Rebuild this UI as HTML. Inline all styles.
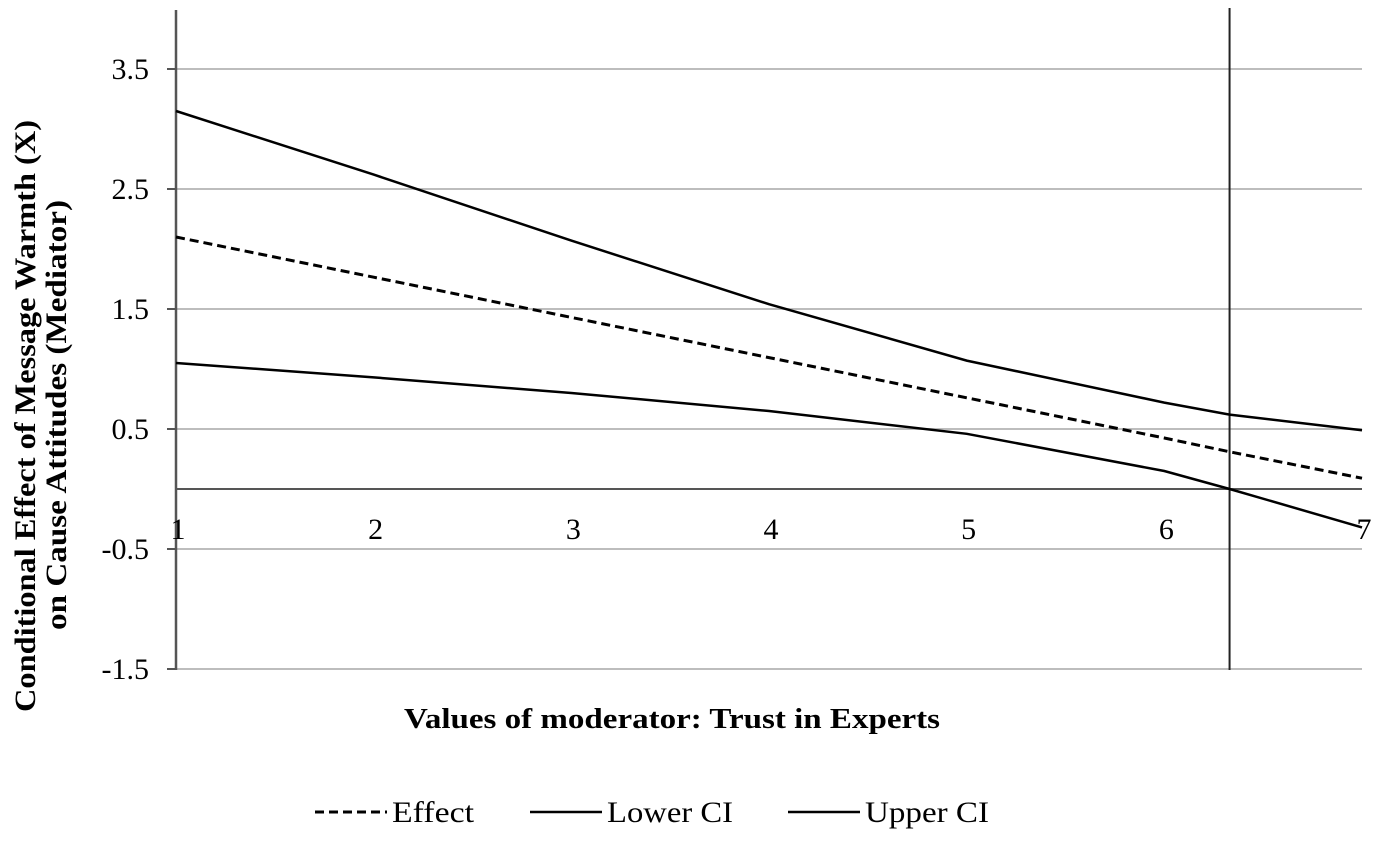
<!DOCTYPE html>
<html><head><meta charset="utf-8"><style>
html,body{margin:0;padding:0;background:#fff;}
svg{display:block;font-family:"Liberation Serif",serif;}
</style></head><body>
<svg id="chart" width="1374" height="841" viewBox="0 0 1374 841">
<g id="grid"></g><g id="axes"></g><g id="series"></g>
<text x="0" y="0" transform="translate(35,416) rotate(-90)" text-anchor="middle" font-size="30" font-weight="bold" textLength="592" lengthAdjust="spacingAndGlyphs">Conditional  Effect of Message Warmth (X)</text>
<text x="0" y="0" transform="translate(66,415) rotate(-90)" text-anchor="middle" font-size="30" font-weight="bold" textLength="430" lengthAdjust="spacingAndGlyphs">on Cause Attitudes (Mediator)</text>
<text x="404" y="728" font-size="29" font-weight="bold" textLength="536" lengthAdjust="spacingAndGlyphs">Values of moderator: Trust in Experts</text>
<g>
<g><line x1="315" y1="812" x2="387" y2="812" stroke="#000" stroke-width="3" stroke-dasharray="9,5"/><text x="392" y="822" font-size="30" textLength="82" lengthAdjust="spacingAndGlyphs">Effect</text></g>
<g><line x1="530" y1="812" x2="602" y2="812" stroke="#000" stroke-width="2.5"/><text x="607" y="822" font-size="30" textLength="126" lengthAdjust="spacingAndGlyphs">Lower CI</text></g>
<g><line x1="788" y1="812" x2="860" y2="812" stroke="#000" stroke-width="2.5"/><text x="865" y="822" font-size="30" textLength="124" lengthAdjust="spacingAndGlyphs">Upper CI</text></g>
</g>
</svg>
<script>
const xCats=[1,2,3,4,5,6,6.33,7];
const effect=[2.10,1.765,1.43,1.095,0.76,0.425,0.31,0.09];
const lowerCI=[1.05,0.93,0.80,0.65,0.46,0.15,0.0,-0.32];
const upperCI=[3.15,2.62,2.07,1.54,1.07,0.72,0.62,0.49];
const yTicks=[3.5,2.5,1.5,0.5,-0.5,-1.5];
const xTicks=[1,2,3,4,5,6,7];
const refX=6.33;
const NS="http://www.w3.org/2000/svg";
const X=v=>176+(v-1)*(1362-176)/6;
const Y=v=>489-v*120;
function mk(p,tag,a){const e=document.createElementNS(NS,tag);for(const k in a)e.setAttribute(k,a[k]);p.appendChild(e);return e;}
const grid=document.getElementById('grid'),axes=document.getElementById('axes'),ser=document.getElementById('series');
yTicks.forEach(t=>{
 const g=mk(grid,'line',{x1:176,x2:1362,y1:Y(t),y2:Y(t),stroke:'#bdbdbd','stroke-width':2});
 
 
 mk(axes,'line',{x1:167,x2:176,y1:Y(t),y2:Y(t),stroke:'#555','stroke-width':2});
 const tx=mk(axes,'text',{x:149,y:Y(t)+10,'text-anchor':'end','font-size':30});
 tx.textContent=t.toFixed(1);
 
 
});
const ya=mk(axes,'line',{x1:176,x2:176,y1:10,y2:670,stroke:'#555','stroke-width':2.5});


const xa=mk(axes,'line',{x1:176,x2:1362,y1:Y(0),y2:Y(0),stroke:'#555','stroke-width':2});


xTicks.forEach(t=>{
 const tx=mk(axes,'text',{x:X(t)+2,y:539,'text-anchor':'middle','font-size':30});
 tx.textContent=t;
 
 
});
const rl=mk(axes,'line',{x1:X(refX),x2:X(refX),y1:8,y2:670,stroke:'#222','stroke-width':2});


function path(vals,name,dash){
 const d=vals.map((v,i)=>(i?'L':'M')+X(xCats[i]).toFixed(1)+','+Y(v).toFixed(1)).join(' ');
 const p=mk(ser,'path',{d:d,fill:'none',stroke:'#000','stroke-width':dash?3:2.5});
 if(dash)p.setAttribute('stroke-dasharray','9,5');
 
 
}
path(upperCI,'upper-ci-line',false);
path(effect,'effect-line',true);
path(lowerCI,'lower-ci-line',false);
</script>
</body></html>
